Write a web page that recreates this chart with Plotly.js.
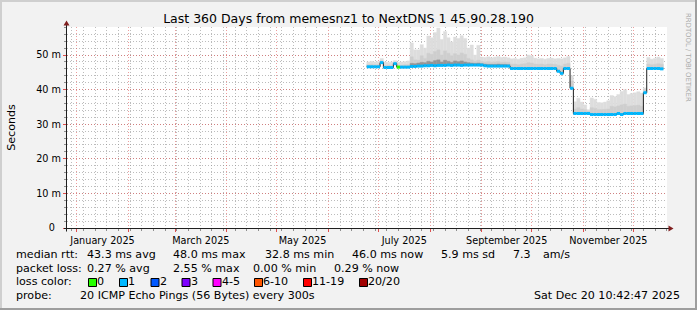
<!DOCTYPE html>
<html><head><meta charset="utf-8">
<script src="https://cdn.plot.ly/plotly-3.0.1.min.js"></script>
<style>html,body{margin:0;padding:0;background:#f2f2f2;} #chart{width:697px;height:310px;}</style>
</head><body><div id="chart"></div>
<script>
// ---------------- data ----------------
const titleText = 'Last 360 Days from memesnz1 to NextDNS 1 45.90.28.190';
const yAxisTitle = 'Seconds';
const startDate = [2025, 5, 24];   // first sample (UTC y, m-1, d)
const stepDays = 2;                // consolidation step

const median = [
 46.6,46.6,46.6,46.6,47.8,46.4,46.4,46.4,47.5,46.5,
 46.5,46.5,46.5,46.7,46.7,46.8,46.8,46.9,46.9,47.0,
 46.9,47.0,47.0,47.0,47.1,47.0,47.1,47.1,47.0,47.1,
 47.1,47.1,47.1,47.1,47.1,46.9,46.8,46.8,46.8,46.8,
 46.8,46.8,46.8,46.1,46.1,46.1,46.1,46.1,46.1,46.1,
 46.1,46.1,46.1,46.1,46.1,46.1,46.1,45.3,44.7,46.1,
 46.1,40.4,33.1,33.1,33.1,33.1,33.1,32.8,32.8,32.8,
 32.8,32.8,32.8,32.8,32.8,33.1,32.8,33.1,33.1,33.1,
 33.1,33.1,33.1,39.1,46.1,46.1,46.1,46.1,46.0];

const lossPings = [
 1,1,1,1,1,1,1,1,1,0,
 1,1,1,1,1,1,1,1,1,1,
 1,1,1,1,1,1,1,1,1,1,
 1,1,1,1,1,1,1,1,1,1,
 1,1,1,1,1,1,1,1,1,1,
 1,1,1,1,1,1,1,1,1,1,
 1,1,1,1,1,1,1,1,1,1,
 1,1,1,1,1,1,1,1,1,1,
 1,1,1,1,1,1,1,1,1];

const smokeHigh = [
 48.0,48.2,48.0,48.1,49.0,48.0,47.9,48.0,48.4,47.9,
 48.0,48.1,48.3,53.5,51.5,51.5,53.0,52.0,55.5,55.0,
 56.5,57.8,54.5,56.8,55.0,53.8,55.2,54.8,55.6,54.8,
 52.0,52.9,50.0,52.8,49.4,49.3,49.5,49.2,49.4,49.6,
 49.3,49.4,49.2,48.9,49.0,48.8,49.1,49.2,50.0,49.8,
 49.1,48.9,49.0,48.8,49.0,49.1,48.9,49.0,48.9,49.2,
 49.6,44.0,36.5,37.5,36.4,35.6,34.2,37.6,37.2,36.3,
 36.2,36.4,36.8,38.3,38.0,38.6,39.5,40.0,38.6,38.9,
 39.1,39.4,39.0,40.5,49.3,48.8,49.0,49.4,49.0];

const smokeMid = [
 47.2,47.3,47.2,47.2,48.3,47.0,47.1,47.0,47.9,47.1,
 47.1,47.2,47.2,49.5,48.6,48.5,49.8,49.0,50.5,50.2,
 51.0,51.5,50.0,51.2,50.5,49.8,50.4,50.0,50.6,50.2,
 49.0,48.6,48.2,48.5,48.1,48.0,48.1,47.9,48.0,48.1,
 47.9,48.0,47.9,47.3,47.4,47.2,47.4,47.5,47.8,47.7,
 47.4,47.3,47.4,47.2,47.4,47.4,47.3,47.0,46.8,47.4,
 47.6,42.5,34.4,34.8,34.4,34.2,33.8,34.8,34.6,34.2,
 34.2,34.3,34.4,35.2,35.0,35.3,35.6,35.8,35.2,35.3,
 35.4,35.5,35.2,40.0,47.4,47.2,47.3,47.5,47.3];

const smokeDark = [
 null,null,null,null,null,null,null,null,null,null,
 null,null,null,47.6,47.5,47.7,47.9,47.8,48.2,48.0,
 48.4,48.6,48.0,48.5,48.2,47.9,48.3,48.1,48.3,48.0,
 47.8,47.7,47.6,47.7,47.5,47.4,47.3,47.3,47.3,47.4,
 47.3,47.3,47.2,null,null,null,null,null,null,null,
 null,null,null,null,null,null,null,null,null,null,
 null,null,null,null,null,null,null,null,null,null,
 null,null,null,null,null,null,null,null,null,null,
 null,null,null,null,null,null,null,null,null];

const yTickVals = [0, 10, 20, 30, 40, 50];
const yTickText = ['0\u00a0\u00a0', '10 m', '20 m', '30 m', '40 m', '50 m'];
const hiddenMonthLabels = ['December 2024','February 2025','April 2025','June 2025','August 2025','October 2025','December 2025'];

const rttLabel = 'median rtt:';
const rttStats = ['43.3 ms avg', '48.0 ms max', '32.8 ms min', '46.0 ms now', '5.9 ms sd', '7.3', 'am/s'];
const lossLabel = 'packet loss:';
const lossStats = ['0.27 % avg', '2.55 % max', '0.00 % min', '0.29 % now'];
const lossColorLabel = 'loss color:';
const lossBucketLabels = ['0', '1', '2', '3', '4-5', '6-10', '11-19', '20/20'];
const lossBucketColors = ['#26ff00', '#00b8ff', '#0059ff', '#7e00ff', '#ff00ff', '#ff5500', '#ff0000', '#a10000'];
const probeLabel = 'probe:';
const probeText = '20 ICMP Echo Pings (56 Bytes) every 300s';
const stampText = 'Sat Dec 20 10:42:47 2025';
const watermarkText = 'RRDTOOL / TOBI OETIKER';

// ---------------- build ----------------
const DAY = 86400000;
const t0 = Date.UTC(startDate[0], startDate[1], startDate[2]);
function iso(ms) { return new Date(ms).toISOString().slice(0, 19).replace('T', ' '); }
const n = median.length;
const tStart = [], tEnd = [], tMid = [];
for (let i = 0; i < n; i++) {
  tStart.push(iso(t0 + i * stepDays * DAY));
  tEnd.push(iso(t0 + (i + 1) * stepDays * DAY));
  tMid.push(iso(t0 + (i + 0.5) * stepDays * DAY));
}

function smokeTrace(top, color) {
  const y = [], base = [];
  for (let i = 0; i < n; i++) {
    if (top[i] == null) { y.push(null); base.push(null); }
    else { y.push(top[i] - median[i]); base.push(median[i]); }
  }
  return { type: 'bar', x: tMid, y: y, base: base, width: stepDays * DAY,
    marker: { color: color, line: { width: 0.4, color: color } }, hoverinfo: 'skip' };
}

function bucketOf(l) {
  if (l <= 0) return 0; if (l <= 1) return 1; if (l <= 2) return 2; if (l <= 3) return 3;
  if (l <= 5) return 4; if (l <= 10) return 5; if (l <= 19) return 6; return 7;
}

const traces = [
  smokeTrace(smokeHigh, '#dddddd'),
  smokeTrace(smokeMid, '#cecece'),
  smokeTrace(smokeDark, '#959595'),
  { type: 'scatter', mode: 'lines', x: tStart.concat([tEnd[n - 1]]), y: median.concat([median[n - 1]]),
    line: { shape: 'hv', color: '#202020', width: 1 }, hoverinfo: 'skip' }
];
for (let b = 0; b < lossBucketColors.length; b++) {
  const x = [], y = [];
  for (let i = 0; i < n; i++) {
    if (bucketOf(lossPings[i]) === b) { x.push(tStart[i], tEnd[i], null); y.push(median[i], median[i], null); }
  }
  if (x.length) traces.push({ type: 'scatter', mode: 'lines', x: x, y: y, connectgaps: false,
    line: { color: lossBucketColors[b], width: 3 }, hoverinfo: 'skip' });
}

// pixel -> paper helpers (plot area 67..667 x 27..228)
const PL = 67, PR = 667, PT = 27, PB = 228;
const px = x => (x - PL) / (PR - PL);
const py = y => (PB - y) / (PB - PT);

const FONT = 'DejaVu Sans';
const annotations = [];
function txt(text, x, y, opts) {
  annotations.push(Object.assign({ text: text, x: px(x), y: py(y), xref: 'paper', yref: 'paper',
    xanchor: 'left', yanchor: 'middle', showarrow: false, borderpad: 0, borderwidth: 0,
    font: { family: FONT, size: 11.1, color: '#000' } }, opts || {}));
}
const row = [254.5, 268, 281.8, 295.3];
txt(rttLabel, 16, row[0]);
const rttX = [86.5, 173.3, 265, 351.6, 441, 512.6, 542.6];
rttStats.forEach((s, i) => txt(s, rttX[i], row[0]));
txt(lossLabel, 16, row[1]);
const lossX = [86.5, 172.6, 252.6, 334.3];
lossStats.forEach((s, i) => txt(s, lossX[i], row[1]));
txt(lossColorLabel, 16, row[2]);
const boxX = [88.5, 119.5, 151, 182, 213, 254.5, 303.5, 359.5];
const shapes = [];
lossBucketLabels.forEach((s, i) => {
  shapes.push({ type: 'rect', xref: 'paper', yref: 'paper', x0: px(boxX[i]), x1: px(boxX[i] + 8),
    y0: py(286.5), y1: py(278.5), fillcolor: lossBucketColors[i], line: { color: '#000', width: 1 } });
  txt(s, boxX[i] + 8.6, row[2]);
});
txt(probeLabel, 16, row[3]);
txt(probeText, 80, row[3]);
txt(stampText, 680, row[3], { xanchor: 'right' });
txt(watermarkText, 688.5, 57.5, { xanchor: 'center', textangle: 90, font: { family: FONT, size: 6.9, color: '#aaaaaa' } });

// frame (3D border)
const rectPx = (x0, y0, x1, y1, c) => shapes.push({ type: 'rect', xref: 'paper', yref: 'paper', layer: 'above',
  x0: px(x0), x1: px(x1), y0: py(y0), y1: py(y1), fillcolor: c, line: { width: 0 } });
rectPx(0, 0, 697, 2, '#cfcfcf');
rectPx(0, 0, 2, 310, '#cfcfcf');
rectPx(0, 308, 697, 310, '#9e9e9e');
rectPx(695, 0, 697, 310, '#9e9e9e');
// axes lines and arrows
const lineShape = (x0, y0, x1, y1, c) => shapes.push({ type: 'line', xref: 'paper', yref: 'paper', layer: 'above',
  x0: px(x0), x1: px(x1), y0: py(y0), y1: py(y1), line: { color: c, width: 1 } });
lineShape(64, 228.5, 669, 228.5, '#1f1f1f');
lineShape(66.5, 231.5, 66.5, 24, '#1f1f1f');
shapes.push({ type: 'path', xref: 'paper', yref: 'paper', layer: 'above', fillcolor: '#801f1f', line: { width: 0 },
  path: `M ${px(673.5)} ${py(228.5)} L ${px(668.5)} ${py(225.5)} L ${px(668.5)} ${py(231.5)} Z` });
shapes.push({ type: 'path', xref: 'paper', yref: 'paper', layer: 'above', fillcolor: '#801f1f', line: { width: 0 },
  path: `M ${px(66.5)} ${py(20.5)} L ${px(63.5)} ${py(25.5)} L ${px(69.5)} ${py(25.5)} Z` });

const labelalias = {};
hiddenMonthLabels.forEach(s => labelalias[s] = '');

const MAJ = 'rgba(222,79,79,0.55)', MIN = 'rgba(143,143,143,0.6)';
const layout = {
  width: 697, height: 310,
  paper_bgcolor: '#f2f2f2', plot_bgcolor: '#ffffff',
  margin: { l: PL, r: 697 - PR, t: PT, b: 310 - PB, pad: 0 },
  showlegend: false, barmode: 'overlay', bargap: 0,
  font: { family: FONT, size: 9.7, color: '#000' },
  title: { text: titleText, font: { family: FONT, size: 12.5, color: '#000' },
    x: 0.5, xref: 'container', xanchor: 'center', y: 1 - 19 / 310, yref: 'container', yanchor: 'middle' },
  xaxis: {
    type: 'date', range: ['2024-12-26 04:00', '2025-12-21 04:00'],
    tickmode: 'linear', tick0: '2025-01-01', dtick: 'M1', ticklabelmode: 'period', tickformat: '%B %Y',
    labelalias: labelalias,
    showgrid: true, gridcolor: MAJ, griddash: '1px,2px', gridwidth: 1,
    ticks: 'outside', ticklen: 3, tickcolor: '#de4f4f', tickwidth: 1,
    minor: { tick0: '2024-12-29', dtick: 7 * DAY, showgrid: true, gridcolor: MIN, griddash: '1px,2px',
      ticks: 'outside', ticklen: 2, tickcolor: '#8f8f8f' },
    showline: false, zeroline: false, fixedrange: true,
    tickfont: { family: FONT, size: 9.7, color: '#000' }
  },
  yaxis: {
    range: [0, 58.1], tickmode: 'array', tickvals: yTickVals, ticktext: yTickText,
    showgrid: true, gridcolor: MAJ, griddash: '1px,2px', gridwidth: 1,
    ticks: 'outside', ticklen: 3, tickcolor: '#de4f4f',
    minor: { dtick: 2, showgrid: true, gridcolor: MIN, griddash: '1px,2px', ticks: 'outside', ticklen: 2, tickcolor: '#8f8f8f' },
    showline: false, zeroline: false, fixedrange: true,
    tickfont: { family: FONT, size: 9.7, color: '#000' },
    title: { text: yAxisTitle, font: { family: FONT, size: 11.1, color: '#000' }, standoff: 18 }
  },
  shapes: shapes,
  annotations: annotations
};

Plotly.newPlot('chart', traces, layout, { staticPlot: true, displayModeBar: false });
</script>
</body></html>
